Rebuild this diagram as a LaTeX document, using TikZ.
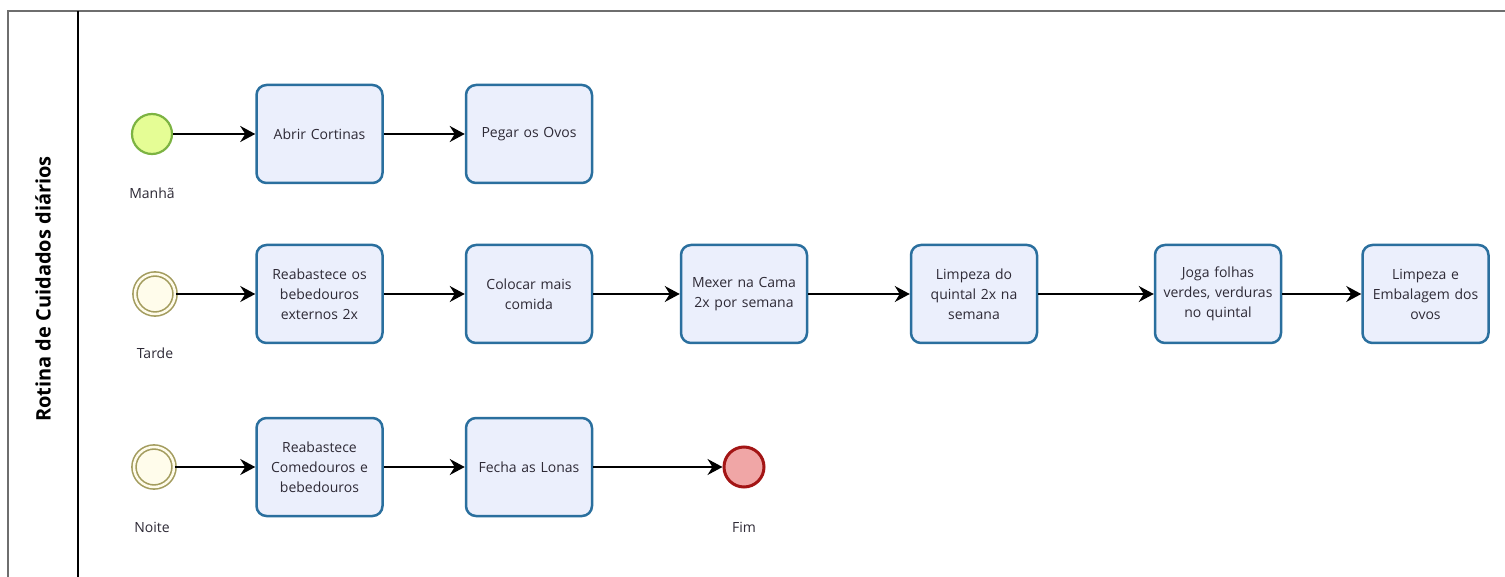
\documentclass[tikz,border=0pt]{standalone}
\usepackage{fontspec}
\setmainfont{Open Sans}
\usetikzlibrary{arrows.meta}
\definecolor{taskfill}{HTML}{EBEFFC}
\definecolor{taskdraw}{HTML}{2A6F9E}
\definecolor{txt}{HTML}{2E2A36}
\definecolor{startfill}{HTML}{E5FD95}
\definecolor{startdraw}{HTML}{7CB342}
\definecolor{midfill}{HTML}{FFFCEB}
\definecolor{middraw}{HTML}{A39C5E}
\definecolor{endfill}{HTML}{F0A6A6}
\definecolor{enddraw}{HTML}{A31515}
\definecolor{pool}{HTML}{6E6E6E}
\tikzset{
  task/.style={draw=taskdraw, line width=2.5pt, fill=taskfill, rounded corners=10pt,
    minimum width=126pt, minimum height=98pt, inner sep=2pt, align=center,
    text width=118pt, text=txt, font=\fontsize{14}{20}\selectfont},
  ev/.style={circle, minimum size=40pt, inner sep=0pt},
  startev/.style={ev, draw=startdraw, fill=startfill, line width=2.2pt},
  midev/.style={ev, draw=middraw, fill=midfill, line width=1.6pt, double=midfill, double distance=2.5pt},
  endev/.style={ev, draw=enddraw, fill=endfill, line width=3pt},
  lbl/.style={text=txt, font=\fontsize{14}{18}\selectfont},
  flow/.style={-{Stealth[length=15pt,width=16pt,inset=5pt]}, line width=1.6pt, draw=black},
  flowthick/.style={flow, line width=2.6pt},
}
\begin{document}
\begin{tikzpicture}[x=1pt,y=-1pt]
\useasboundingbox (0,0) rectangle (1505,577);
\fill[white] (0,0) rectangle (1505,577);
\draw[pool, line width=1.5pt] (8,577) -- (8,11) -- (1505,11);
\draw[black, line width=2pt] (78,11) -- (78,577);
\node[rotate=90, font=\fontsize{20}{24}\selectfont\bfseries] (lane) at (43,289) {Rotina de Cuidados diários};

% row 1
\node[startev] (s1) at (152,134) {};
\node[lbl] (l1) at (152,193) {Manhã};
\node[task] (a1) at (319.5,134) {Abrir Cortinas};
\node[task] (a2) at (529,134) {Pegar os Ovos};
\draw[flowthick] (s1) -- (a1);
\draw[flowthick] (a1) -- (a2);

% row 2
\node[midev] (s2) at (155,294) {};
\node[lbl] (l2) at (155,353) {Tarde};
\node[task] (b1) at (319.5,294) {Reabastece os\\bebedouros\\externos 2x};
\node[task] (b2) at (529,294) {Colocar mais\\comida};
\node[task] (b3) at (744,294) {Mexer na Cama\\2x por semana};
\node[task] (b4) at (974,294) {Limpeza do\\quintal 2x na\\semana};
\node[task] (b5) at (1218,294) {Joga folhas\\verdes, verduras\\no quintal};
\node[task] (b6) at (1425.5,294) {Limpeza e\\Embalagem dos\\ovos};
\draw[flow] (s2) -- (b1);
\draw[flow] (b1) -- (b2);
\draw[flow] (b2) -- (b3);
\draw[flow] (b3) -- (b4);
\draw[flow] (b4) -- (b5);
\draw[flow] (b5) -- (b6);

% row 3
\node[midev] (s3) at (154,467) {};
\node[lbl] (l3) at (152,527) {Noite};
\node[task] (c1) at (319.5,467) {Reabastece\\Comedouros e\\bebedouros};
\node[task] (c2) at (529,467) {Fecha as Lonas};
\node[endev] (e) at (744,467) {};
\node[lbl] (l4) at (744,527) {Fim};
\draw[flow] (s3) -- (c1);
\draw[flow] (c1) -- (c2);
\draw[flow] (c2) -- (e);
\end{tikzpicture}
\end{document}
